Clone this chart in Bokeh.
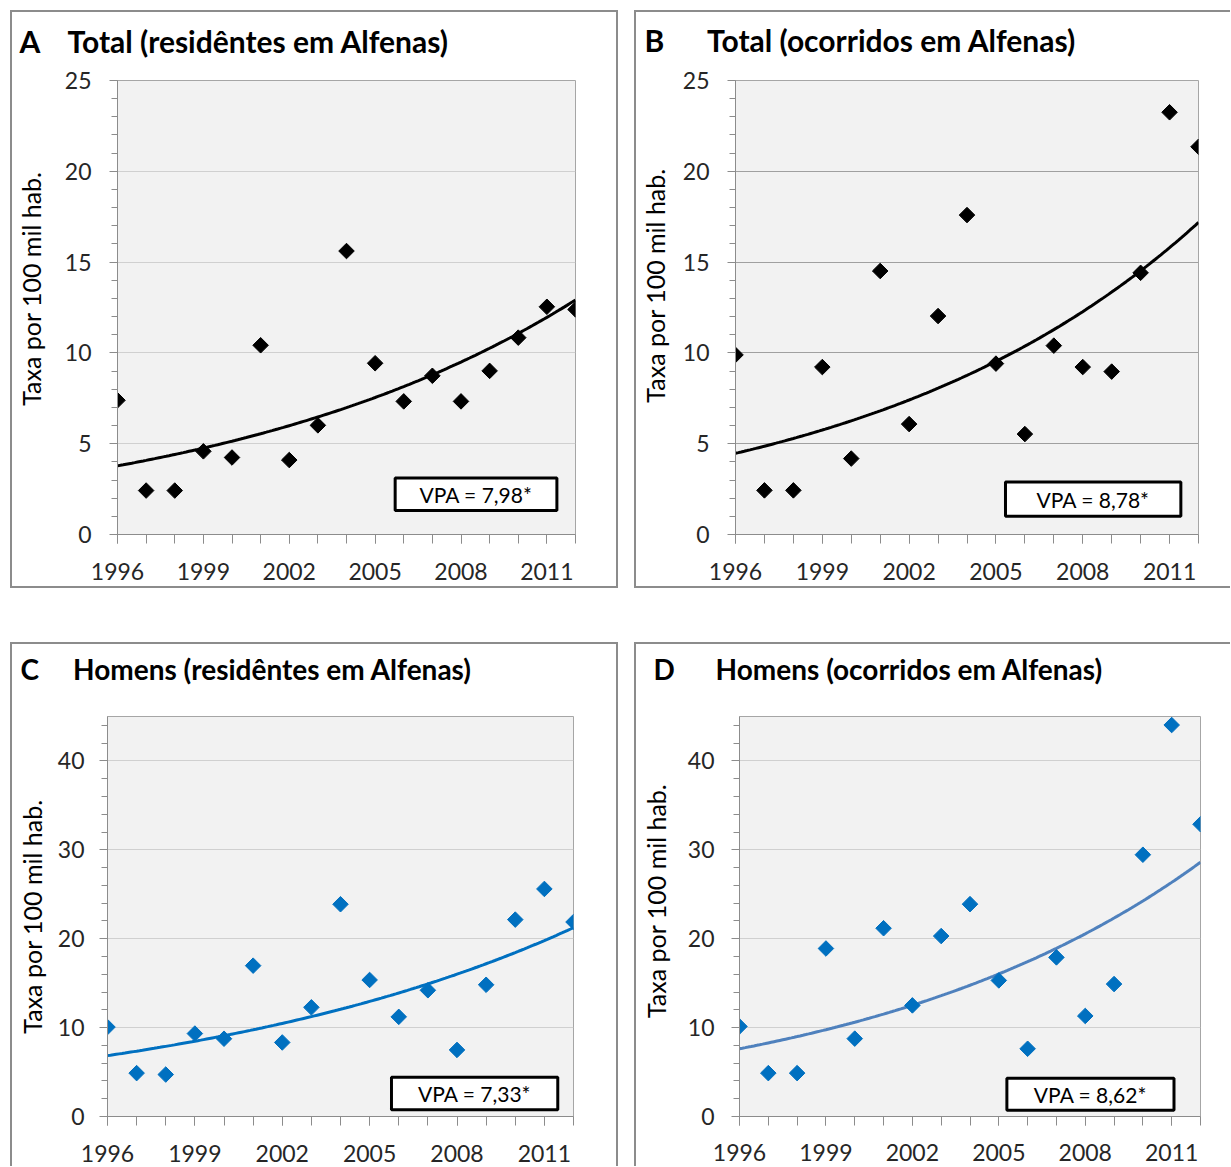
import numpy as np
from bokeh.plotting import figure
from bokeh.layouts import row, column
from bokeh.models import FixedTicker, BoxAnnotation, Range1d, Label
from bokeh.embed import file_html
from bokeh.resources import INLINE

# ---------------- data ----------------
years = list(range(1996, 2013))
year_tick_labels = ["1996", "1999", "2002", "2005", "2008", "2011"]

total_res = [7.39, 2.42, 2.42, 4.58, 4.24, 10.42, 4.10, 6.01, 15.61, 9.43,
             7.33, 8.74, 7.33, 9.01, 10.84, 12.54, 12.39]
total_oc = [9.89, 2.43, 2.43, 9.22, 4.18, 14.51, 6.08, 12.03, 17.59, 9.41,
            5.53, 10.40, 9.22, 8.97, 14.41, 23.25, 21.35]
men_res = [10.06, 4.88, 4.72, 9.33, 8.75, 16.97, 8.33, 12.28, 23.88, 15.36,
           11.21, 14.20, 7.49, 14.82, 22.15, 25.60, 21.88]
men_oc = [10.13, 4.88, 4.88, 18.90, 8.76, 21.18, 12.50, 20.30, 23.89, 15.31,
          7.62, 17.90, 11.31, 14.90, 29.45, 44.04, 32.88]

# fitted joinpoint trend: value in 1996 and annual percent change (VPA)
trend_1996 = [3.78, 4.47, 6.85, 7.62]
vpa = [7.98, 8.78, 7.33, 8.62]
vpa_labels = ["VPA = 7,98*", "VPA = 8,78*", "VPA = 7,33*", "VPA = 8,62*"]

letters = ["A", "B", "C", "D"]
titles = ["Total (residêntes em Alfenas)", "Total (ocorridos em Alfenas)",
          "Homens (residêntes em Alfenas)", "Homens (ocorridos em Alfenas)"]
y_label = "Taxa por 100 mil hab."

FONT = "Lato"
NB = "\u00a0"
GRAY = "#8c8c8c"
BLUE = "#0070C0"


def panel_background(offset, sides):
    """CSS background drawing the panel's grey frame, `offset` px below the element top."""
    g = f"linear-gradient({GRAY},{GRAY})"
    layers = []
    if "top" in sides:
        layers.append(f"{g} 0px {offset}px / 100% 2px no-repeat")
    if "bottom" in sides:
        layers.append(f"{g} 0px 100% / 100% 2px no-repeat")
    if "left" in sides:
        layers.append(f"{g} 0px {offset}px / 2px calc(100% - {offset}px) no-repeat")
    if "right" in sides:
        layers.append(f"{g} 100% {offset}px / 2px calc(100% - {offset}px) no-repeat")
    layers.append("#ffffff")
    return {"background": ", ".join(layers)}


def make_panel(i, vals, cfg):
    fw, fh = cfg["frame"]
    left, top = cfg["lt"]
    width, height = cfg["size"]
    ymax, ymajor, yminor = cfg["y"]
    p = figure(width=width, height=height,
               x_range=Range1d(1996, 2012), y_range=Range1d(0, ymax),
               output_backend="svg", toolbar_location=None,
               min_border_left=left, min_border_right=width - left - fw,
               min_border_top=top, min_border_bottom=height - top - fh,
               styles=panel_background(cfg["off"], cfg["sides"]))
    p.background_fill_color = "#F2F2F2"
    p.border_fill_color = "white"
    p.border_fill_alpha = 0.0
    p.outline_line_color = "#a6a6a6"
    p.outline_line_width = 1

    # title: panel letter + title
    gap, offset, standoff, tsize = cfg["title"]
    p.title.text = letters[i] + NB * gap + titles[i]
    p.title.align = "left"
    p.title.offset = offset
    p.title.standoff = standoff
    p.title.text_font = FONT
    p.title.text_font_size = tsize
    p.title.text_font_style = "bold"
    p.title.text_color = "black"

    # x axis
    major_years = [int(s) for s in year_tick_labels]
    p.xaxis.ticker = FixedTicker(ticks=major_years, minor_ticks=years)
    p.xaxis.major_label_overrides = {y: s for y, s in zip(major_years, year_tick_labels)}
    p.xgrid.visible = False
    # y axis (leading no-break spaces nudge the label up, as in the original)
    p.yaxis.ticker = FixedTicker(ticks=list(np.arange(0, ymax + 0.1, ymajor)),
                                 minor_ticks=list(np.arange(0, ymax + 0.1, yminor)))
    p.ygrid.grid_line_color = cfg["grid"]
    p.ygrid.grid_line_width = 1
    p.yaxis.axis_label = NB * cfg["lshift"] + y_label
    p.yaxis.axis_label_text_font = FONT
    p.yaxis.axis_label_text_font_size = "25px"
    p.yaxis.axis_label_text_font_style = "normal"
    p.yaxis.axis_label_text_color = "black"
    p.yaxis.axis_label_standoff = cfg["lstand"]

    for ax in (p.xaxis, p.yaxis):
        ax.axis_line_color = GRAY
        ax.major_tick_line_color = GRAY
        ax.minor_tick_line_color = GRAY
        ax.major_tick_in = 0
        ax.minor_tick_in = 0
        ax.major_label_text_font = FONT
        ax.major_label_text_font_size = "23px"
        ax.major_label_text_color = "#262626"
    p.xaxis.major_tick_out = 9
    p.xaxis.minor_tick_out = 9
    p.xaxis.major_label_standoff = cfg["xstand"]
    p.yaxis.major_tick_out = 8
    p.yaxis.minor_tick_out = 6
    p.yaxis.major_label_standoff = cfg["ystand"]

    # trend curve from the fitted model
    xs = np.linspace(1996, 2012, 161)
    ys = trend_1996[i] * (1 + vpa[i] / 100.0) ** (xs - 1996)
    p.line(xs, ys, line_width=3, line_color=cfg["lcolor"])
    p.scatter(years, vals, marker="square", size=11, angle=np.pi / 4,
              fill_color=cfg["mcolor"], line_color=cfg["mcolor"])

    # VPA box
    box = cfg["box"]
    p.add_layout(BoxAnnotation(left=box[0], right=box[1], bottom=box[2], top=box[3],
                               fill_color="white", fill_alpha=1.0,
                               line_color="black", line_width=3, line_alpha=1.0))
    p.add_layout(Label(x=(box[0] + box[1]) / 2, y=(box[2] + box[3]) / 2, text=vpa_labels[i],
                       text_align="center", text_baseline="middle", text_font=FONT,
                       text_font_size="21px", text_color="black"))
    return p


cfgA = dict(size=(608, 594), lt=(107, 85), frame=(458, 456), y=(25, 5, 1),
            off=16, sides=("top", "bottom", "left", "right"),
            title=(4, -98, 43, "30px"), lstand=16, lshift=6,
            grid="#d0d0d0", mcolor="black", lcolor="black", xstand=19, ystand=18,
            box=(2005.7, 2011.35, 1.32, 3.11))
cfgB = dict(size=(596, 594), lt=(101, 86), frame=(463, 454), y=(25, 5, 1),
            off=16, sides=("top", "bottom", "left"),
            title=(6, -91, 46, "30px"), lstand=10, lshift=7,
            grid="#a0a0a0", mcolor="black", lcolor="black", xstand=19, ystand=18,
            box=(2005.33, 2011.39, 1.01, 2.89))
cfgC = dict(size=(608, 548), lt=(97, 97), frame=(466, 401), y=(45, 10, 2),
            off=24, sides=("top", "left", "right"),
            title=(5, -87, 61, "28px"), lstand=8, lshift=0,
            grid="#d0d0d0", mcolor=BLUE, lcolor=BLUE, xstand=19, ystand=15,
            box=(2005.75, 2011.46, 0.77, 4.41))
cfgD = dict(size=(596, 548), lt=(105, 98), frame=(461, 402), y=(45, 10, 2),
            off=24, sides=("top", "left"),
            title=(6, -86, 62, "28px"), lstand=14, lshift=5,
            grid="#d0d0d0", mcolor=BLUE, lcolor="#4F81BD", xstand=18, ystand=17,
            box=(2005.28, 2011.08, 0.69, 4.30))

pA = make_panel(0, total_res, cfgA)
pB = make_panel(1, total_oc, cfgB)
pC = make_panel(2, men_res, cfgC)
pD = make_panel(3, men_oc, cfgD)

layout = column(row(pA, pB, spacing=16), row(pC, pD, spacing=16), spacing=30,
                styles={"margin-left": "10px", "margin-top": "-6px"})

open("out.html", "w").write(file_html(layout, INLINE))
